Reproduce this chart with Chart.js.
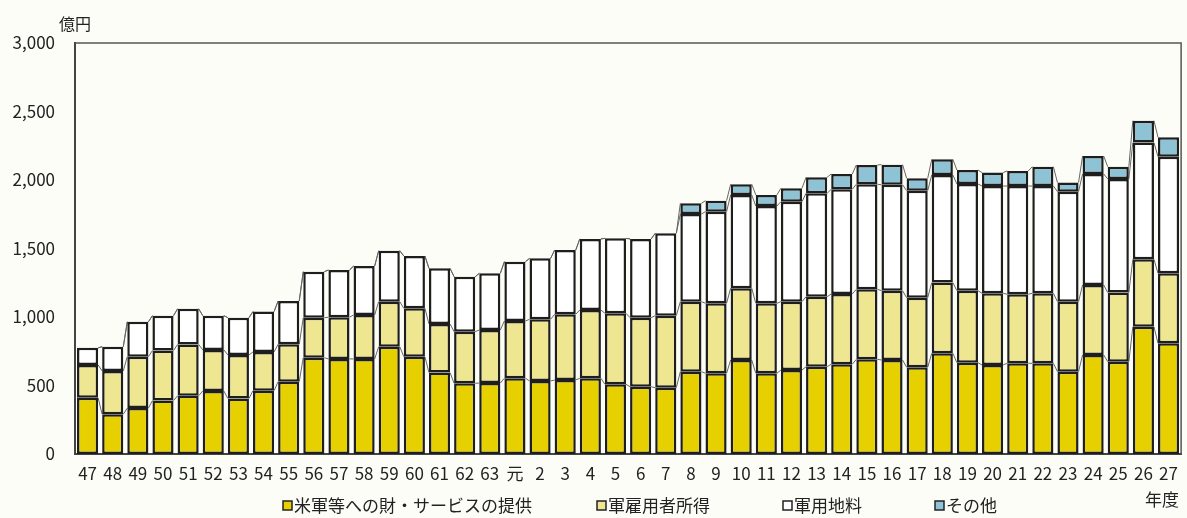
<!DOCTYPE html>
<html lang="ja">
<head>
    <meta charset="UTF-8">
    <title>chart</title>
    <style>
        html,body{margin:0;padding:0;background:#fdfdf8;}
        .container{width:1187px;height:518px;}
    </style>
</head>
<body>
    <div class="container">
        <canvas id="myChart" width="1187" height="518"></canvas>
    </div>
    <script src="https://cdn.jsdelivr.net/npm/chart.js"></script>
    <script>
        const years=['47','48','49','50','51','52','53','54','55','56','57','58','59','60','61','62','63','元',
            '2','3','4','5','6','7','8','9','10','11','12','13','14','15','16','17','18','19','20','21','22','23','24','25','26','27'];
        // 米軍等への財・サービスの提供
        const goods=[410,290,335,390,425,460,405,462,528,703,694,694,783,710,594,516,518,553,
            533,540,553,509,491,484,601,589,686,589,613,637,655,691,686,633,735,666,650,662,662,601,723,674,929,808];
        // 軍雇用者所得
        const employees=[240,316,375,365,375,300,318,283,273,292,304,321,329,353,355,377,387,418,
            450,480,498,518,504,526,511,511,524,511,499,511,513,511,506,508,516,526,523,504,511,511,511,504,492,511];
        // 軍用地料
        const land=[125,177,255,255,260,250,272,295,316,336,345,357,372,382,406,401,414,433,
            445,469,519,547,575,601,640,669,681,710,730,755,764,767,773,781,786,779,783,790,783,803,810,830,852,851];
        // その他
        const other=[0,0,0,0,0,0,0,0,0,0,0,0,0,0,0,0,0,0,
            0,0,0,0,0,0,78,80,78,81,98,117,112,141,147,91,114,102,98,110,141,66,131,89,160,142];
        const seriesNames=['米軍等への財・サービスの提供','軍雇用者所得','軍用地料','その他'];
        const colors=['#e6d000','#eee690','#ffffff','#8dc3d5'];
        const yTicks=[0,500,1000,1500,2000,2500,3000];

        const jpFont="'Noto Sans CJK JP', sans-serif";

        // thin lines joining the tops of each stack segment
        const seriesLines={
            id:'seriesLines',
            beforeDatasetsDraw(chart){
                const {ctx}=chart;
                ctx.save();
                ctx.strokeStyle='#666';
                ctx.lineWidth=1;
                chart.data.datasets.forEach((ds,d)=>{
                    const meta=chart.getDatasetMeta(d);
                    for(let i=0;i<meta.data.length-1;i++){
                        const a=meta.data[i],b=meta.data[i+1];
                        ctx.beginPath();
                        ctx.moveTo(a.x+a.width/2,a.y);
                        ctx.lineTo(b.x-b.width/2,b.y);
                        ctx.stroke();
                    }
                });
                ctx.restore();
            }
        };

        const frameAndText={
            id:'frameAndText',
            afterDraw(chart){
                const {ctx,chartArea}=chart;
                const {left,right,top,bottom}=chartArea;
                ctx.save();
                ctx.strokeStyle='#555';
                ctx.lineWidth=1.5;
                ctx.beginPath();
                ctx.moveTo(left,top);
                ctx.lineTo(right,top);
                ctx.lineTo(right,bottom);
                ctx.stroke();

                ctx.fillStyle='#222';
                ctx.font="16px "+jpFont;
                ctx.textBaseline='middle';
                ctx.textAlign='left';
                ctx.fillText('億円',left-16,top-19);
                ctx.font="17px "+jpFont;
                ctx.textAlign='right';
                ctx.fillText('年度',right-2,bottom+46);

                // legend
                const legendY=bottom+52;
                const starts=[283,597,783,935];
                ctx.textAlign='left';
                chart.data.datasets.forEach((ds,i)=>{
                    const x=starts[i];
                    ctx.fillStyle=ds.backgroundColor;
                    ctx.fillRect(x,legendY-5,9,9);
                    ctx.strokeStyle='#222';
                    ctx.lineWidth=1.5;
                    ctx.strokeRect(x,legendY-5,9,9);
                    ctx.fillStyle='#222';
                    ctx.fillText(ds.label,x+11,legendY);
                });
                ctx.restore();
            }
        };

        const datasets=[goods,employees,land,other].map((arr,i)=>({
            label:seriesNames[i],
            data:arr,
            backgroundColor:colors[i],
            borderColor:'#1e1e1e',
            borderWidth:2.5,
            borderSkipped:false,
            inflateAmount:0,
            barPercentage:0.84,
            categoryPercentage:1
        }));

        new Chart(document.querySelector('#myChart').getContext('2d'),{
            type:'bar',
            data:{labels:years,datasets},
            plugins:[seriesLines,frameAndText],
            options:{
                responsive:false,
                animation:false,
                layout:{padding:{top:43,right:1,left:0,bottom:0}},
                plugins:{
                    legend:{display:false},
                    tooltip:{enabled:false}
                },
                scales:{
                    x:{
                        stacked:true,
                        grid:{display:false,drawTicks:false},
                        border:{color:'#444',width:2},
                        ticks:{color:'#222',font:{size:17,family:jpFont},padding:9,maxRotation:0,autoSkip:false},
                        afterFit(scale){scale.height=64;}
                    },
                    y:{
                        stacked:true,
                        min:0,max:3000,
                        grid:{display:false,drawTicks:false},
                        border:{color:'#444',width:2},
                        afterBuildTicks(scale){scale.ticks=yTicks.map(v=>({value:v}));},
                        ticks:{color:'#222',font:{size:17,family:jpFont},padding:20,
                            callback:v=>v.toLocaleString('en-US')},
                        afterFit(scale){scale.width=75;}
                    }
                }
            }
        });
    </script>
</body>
</html>
